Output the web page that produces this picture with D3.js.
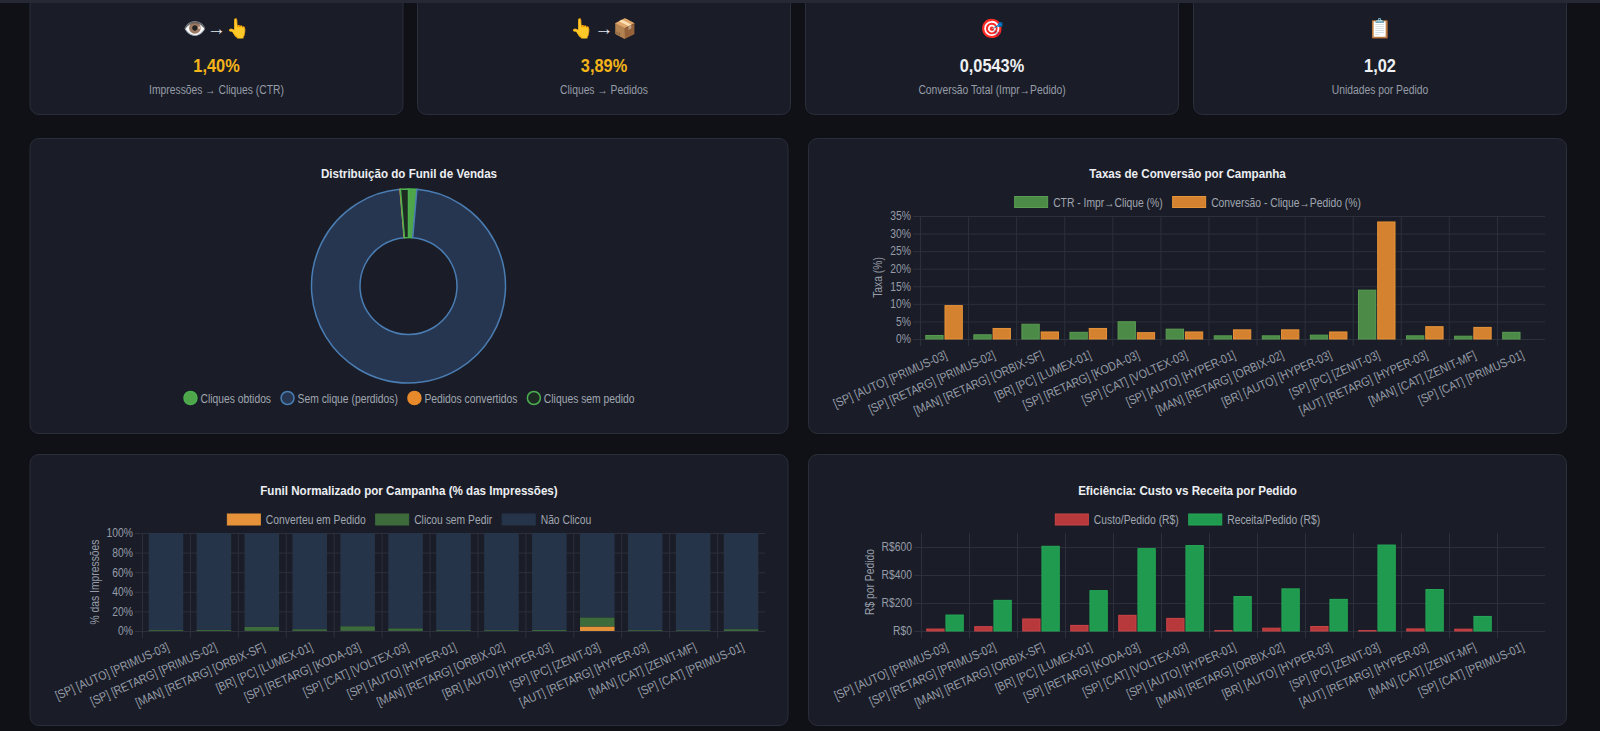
<!DOCTYPE html>
<html><head><meta charset="utf-8">
<script src="https://cdn.jsdelivr.net/npm/d3@7"></script>
<style>
html,body{margin:0;padding:0;background:#0f1116;overflow:hidden;}
svg{display:block;font-family:"Liberation Sans",Arial,Helvetica,sans-serif;}
</style></head><body>
<svg id="c" width="1600" height="731"></svg>
<script>
// ---------------- DATA ----------------
const categories = [
  "[SP] [AUTO] [PRIMUS-03]", "[SP] [RETARG] [PRIMUS-02]", "[MAN] [RETARG] [ORBIX-SF]",
  "[BR] [PC] [LUMEX-01]", "[SP] [RETARG] [KODA-03]", "[SP] [CAT] [VOLTEX-03]",
  "[SP] [AUTO] [HYPER-01]", "[MAN] [RETARG] [ORBIX-02]", "[BR] [AUTO] [HYPER-03]",
  "[SP] [PC] [ZENIT-03]", "[AUT] [RETARG] [HYPER-03]", "[MAN] [CAT] [ZENIT-MF]",
  "[SP] [CAT] [PRIMUS-01]"
];

const kpiIcons = ["👁️→👆", "👆→📦", "🎯", "📋"];
const kpiValues = ["1,40%", "3,89%", "0,0543%", "1,02"];
const kpiLabels = ["Impressões → Cliques (CTR)", "Cliques → Pedidos", "Conversão Total (Impr→Pedido)", "Unidades por Pedido"];

const funnelLabels = ["Cliques obtidos", "Sem clique (perdidos)", "Pedidos convertidos", "Cliques sem pedido"];
const funnelValues = [1.40, 98.60, 0.0543, 1.35];

const rateSeries = ["CTR - Impr→Clique (%)", "Conversão - Clique→Pedido (%)"];
const ctrValues  = [1.0, 1.2, 4.2, 1.9, 4.9, 2.8, 0.9, 0.9, 1.1, 13.9, 0.9, 0.8, 1.9];
const convValues = [9.5, 3.0, 2.0, 3.0, 1.8, 2.0, 2.6, 2.6, 2.0, 33.3, 3.5, 3.3, 0];
const rateTicks = [0, 5, 10, 15, 20, 25, 30, 35];

const stackSeries = ["Converteu em Pedido", "Clicou sem Pedir", "Não Clicou"];
const convertedPct      = [0.10, 0.04, 0.08, 0.06, 0.09, 0.06, 0.02, 0.02, 0.02, 4.6, 0.03, 0.03, 0];
const clickedNoOrderPct = [0.9, 1.2, 4.1, 1.8, 4.8, 2.7, 0.9, 0.9, 1.1, 9.3, 0.9, 0.8, 1.9];
const notClickedPct     = [99.0, 98.8, 95.8, 98.1, 95.1, 97.2, 99.1, 99.1, 98.9, 86.1, 99.1, 99.2, 98.1];
const pctTicks = [0, 20, 40, 60, 80, 100];

const moneySeries = ["Custo/Pedido (R$)", "Receita/Pedido (R$)"];
const costPerOrder    = [14, 31, 86, 40, 112, 90, 3, 20, 32, 3, 15, 13, 0];
const revenuePerOrder = [114, 219, 605, 288, 588, 610, 246, 301, 226, 614, 296, 104, 0];
const moneyTicks = [0, 200, 400, 600];

// ---------------- STYLE ----------------
const C = {bg:'#0f1116', card:'#1a1d27', border:'#2a2e3a', grid:'#2c303c',
  tick:'#969ca8', legend:'#a0a6b1', title:'#eceef2'};
const SQ = 0.86;
const svg = d3.select('#c');

function sq(node){
  const L = node.getComputedTextLength();
  if (L > 0){ node.setAttribute('textLength', (L*SQ).toFixed(2)); node.setAttribute('lengthAdjust','spacingAndGlyphs'); }
  node.classList.add('sq');
  return L*SQ;
}

svg.append('rect').attr('width',1600).attr('height',731).attr('fill',C.bg);

function card(x,y,w,h){
  svg.append('rect').attr('x',x+0.5).attr('y',y+0.5).attr('width',w-1).attr('height',h-1)
    .attr('rx',9).attr('fill',C.card).attr('stroke',C.border);
}

// ---------------- KPI CARDS ----------------
const kpiX = [29.5, 417, 805, 1193], kpiW = 374;
kpiX.forEach((x,i)=>{
  card(x,-14,kpiW,129);
  const cx = x + kpiW/2;
  svg.append('text').attr('class','emoji').attr('x',cx).attr('y',28).attr('text-anchor','middle')
    .attr('dominant-baseline','central').attr('font-size',19)
    .attr('font-family','"Noto Color Emoji","Apple Color Emoji","Segoe UI Emoji",sans-serif')
    .attr('fill','#e5e7eb').text(kpiIcons[i]);
  svg.append('text').attr('x',cx).attr('y',65).attr('text-anchor','middle').attr('dominant-baseline','central')
    .attr('font-size',19).attr('font-weight','bold').attr('fill', i<2 ? '#f4b41a' : '#eef0f3').text(kpiValues[i]);
  svg.append('text').attr('x',cx).attr('y',90).attr('text-anchor','middle').attr('dominant-baseline','central')
    .attr('font-size',12).attr('fill',C.tick).text(kpiLabels[i]);
});
svg.append('rect').attr('width',1600).attr('height',3).attr('fill','#262933');

// ---------------- CHART CARDS ----------------
const cards = [[29.5,138,759,296],[808,138,759,296],[29.5,454,759,272],[808,454,759,272]];
cards.forEach(c=>card(...c));

function title(txt, cx, y){
  svg.append('text').attr('x',cx).attr('y',y).attr('text-anchor','middle').attr('dominant-baseline','central')
    .attr('font-size',13.5).attr('font-weight','bold').attr('fill',C.title).text(txt);
}

function legend(items, cx, cy, shape){
  const g = svg.append('g');
  let xpos = 0;
  items.forEach(it=>{
    const ig = g.append('g').attr('transform',`translate(${xpos},0)`);
    let bw;
    if (shape === 'circle'){
      ig.append('circle').attr('cx',7).attr('cy',0).attr('r',6.5).attr('fill',it.fill)
        .attr('stroke',it.stroke).attr('stroke-width',1.5);
      bw = 17;
    } else {
      ig.append('rect').attr('x',0.5).attr('y',-5.5).attr('width',33).attr('height',11)
        .attr('fill',it.fill).attr('stroke',it.stroke).attr('stroke-width',1);
      bw = 39;
    }
    const t = ig.append('text').attr('x',bw).attr('y',0.5).attr('dominant-baseline','central')
      .attr('font-size',12).attr('fill',C.legend).text(it.label);
    const w = sq(t.node());
    xpos += bw + w + 9.5;
  });
  g.attr('transform',`translate(${cx-(xpos-9.5)/2},${cy})`);
}

// ---------------- DONUT ----------------
(function(){
  const cx = 408.5, cy = 286;
  title("Distribuição do Funil de Vendas", 409, 173);
  const fills = ['#4fa54a','#263650','#e8892b','#1d2b23'];
  const strokes = ['#4caf50','#4a7db3','#e8892b','#4caf50'];
  const pie = d3.pie().sort(null).value(d=>d)(funnelValues);
  const arc = d3.arc().innerRadius(48.5).outerRadius(97);
  const g = svg.append('g').attr('transform',`translate(${cx},${cy})`);
  g.selectAll('path').data(pie).join('path').attr('d',arc)
    .attr('fill',(d,i)=>fills[i]).attr('stroke',(d,i)=>strokes[i]).attr('stroke-width',1.5)
    .attr('stroke-linejoin','round');
  legend(funnelLabels.map((l,i)=>({label:l, fill:fills[i], stroke:strokes[i]})), 409, 398, 'circle');
})();

// ---------------- AXIS HELPERS ----------------
function frame(x, y, x0, x1, top, bottom, ticks, fmt, axisTitle, rot){
  const g = svg.append('g');
  g.selectAll('line.v').data(categories).join('line')
    .attr('x1',(d)=>x(d)+0.5).attr('x2',(d)=>x(d)+0.5)
    .attr('y1',top).attr('y2',bottom+7).attr('stroke',C.grid).attr('stroke-width',1);
  const ya = d3.axisLeft(y).tickValues(ticks).tickFormat(fmt).tickSize(-(x1-x0)).tickPadding(9);
  const yg = svg.append('g').attr('transform',`translate(${x0},0)`).call(ya);
  yg.select('.domain').remove();
  yg.selectAll('line').attr('x1',-7).attr('stroke',C.grid);
  yg.selectAll('text').attr('fill',C.tick).attr('font-size',12).attr('font-family',null);
  let minLeft = 0;
  yg.selectAll('text').each(function(){ const w = sq(this); minLeft = Math.max(minLeft, w); });
  const xa = d3.axisBottom(x).tickSize(0).tickPadding(0);
  const xg = svg.append('g').attr('transform',`translate(0,${bottom})`).call(xa);
  xg.select('.domain').remove();
  xg.selectAll('text').attr('fill',C.tick).attr('font-size',12.3).attr('font-family',null)
    .attr('text-anchor','end').attr('x',4).attr('y',19).attr('dy',null)
    .attr('transform',`rotate(${-rot} 4 19)`);
  xg.selectAll('text').each(function(){ sq(this); });
  const tx = x0 - 9 - minLeft - 12;
  svg.append('text').attr('transform',`translate(${tx},${(top+bottom)/2}) rotate(-90)`)
    .attr('text-anchor','middle').attr('dominant-baseline','central')
    .attr('font-size',12).attr('fill',C.tick).text(axisTitle);
}

function groupedChart(cfg){
  const x = d3.scaleBand().domain(categories).range([cfg.x0, cfg.x1]);
  const y = d3.scaleLinear().domain([0, cfg.yMax]).range([cfg.bottom, cfg.top]);
  frame(x, y, cfg.x0, cfg.x1, cfg.top, cfg.bottom, cfg.ticks, cfg.fmt, cfg.axisTitle, cfg.rot);
  const w = x.bandwidth();
  const xs = d3.scaleBand().domain(cfg.series.map(s=>s.name)).range([0.1*w, 0.9*w]).paddingInner(0.1).paddingOuter(0.05);
  cfg.series.forEach(s=>{
    svg.append('g').selectAll('rect').data(s.values.map((v,i)=>({c:categories[i], v})).filter(d=>d.v>0)).join('rect')
      .attr('x',d=>x(d.c)+xs(s.name)).attr('width',xs.bandwidth())
      .attr('y',d=>y(d.v)).attr('height',d=>cfg.bottom - y(d.v))
      .attr('fill',s.fill).attr('stroke',s.stroke).attr('stroke-width',1);
  });
  title(cfg.title, cfg.cx, cfg.titleY);
  legend(cfg.series.map(s=>({label:s.name, fill:s.fill, stroke:s.stroke})), cfg.cx, cfg.legendY, 'rect');
}

// ---------------- RATES CHART ----------------
groupedChart({
  x0:920, x1:1545, top:216, bottom:339, yMax:35, ticks:rateTicks, fmt:d=>d+'%', rot:24,
  axisTitle:'Taxa (%)', title:'Taxas de Conversão por Campanha', cx:1187.5, titleY:173, legendY:202,
  series:[
    {name:rateSeries[0], values:ctrValues, fill:'#4b8a47', stroke:'#5a9d52'},
    {name:rateSeries[1], values:convValues, fill:'#d4822f', stroke:'#e8943a'}
  ]
});

// ---------------- EFFICIENCY CHART ----------------
groupedChart({
  x0:921, x1:1545, top:533, bottom:631, yMax:700, ticks:moneyTicks, fmt:d=>'R$'+d, rot:24,
  axisTitle:'R$ por Pedido', title:'Eficiência: Custo vs Receita por Pedido', cx:1187.5, titleY:490, legendY:519.5,
  series:[
    {name:moneySeries[0], values:costPerOrder, fill:'#b8393c', stroke:'#cc4447'},
    {name:moneySeries[1], values:revenuePerOrder, fill:'#1f9a4f', stroke:'#25a957'}
  ]
});

// ---------------- STACKED CHART ----------------
(function(){
  const x0=142, x1=765, top=533, bottom=631;
  const x = d3.scaleBand().domain(categories).range([x0,x1]);
  const y = d3.scaleLinear().domain([0,100]).range([bottom,top]);
  frame(x, y, x0, x1, top, bottom, pctTicks, d=>d+'%', '% das Impressões', 24);
  const rows = categories.map((c,i)=>({cat:c, a:convertedPct[i], b:clickedNoOrderPct[i], n:notClickedPct[i]}));
  const keys = ['a','b','n'];
  const fills = {a:'#e6923a', b:'#3d6b3b', n:'#26344a'};
  const stacked = d3.stack().keys(keys)(rows);
  const xb = d3.scaleBand().domain(categories).range([x0,x1]).paddingInner(0.28).paddingOuter(0.14);
  stacked.forEach(layer=>{
    svg.append('g').selectAll('rect').data(layer).join('rect')
      .attr('x',d=>xb(d.data.cat)).attr('width',xb.bandwidth())
      .attr('y',d=>y(d[1])).attr('height',d=>Math.max(0, y(d[0])-y(d[1])))
      .attr('fill',fills[layer.key]);
  });
  title('Funil Normalizado por Campanha (% das Impressões)', 409, 490);
  legend(stackSeries.map((s,i)=>({label:s, fill:fills[keys[i]], stroke:fills[keys[i]]})), 409, 519.5, 'rect');
})();

svg.selectAll('text').each(function(){
  if (this.classList.contains('sq') || this.classList.contains('emoji')) return;
  sq(this);
});
</script>
</body></html>
